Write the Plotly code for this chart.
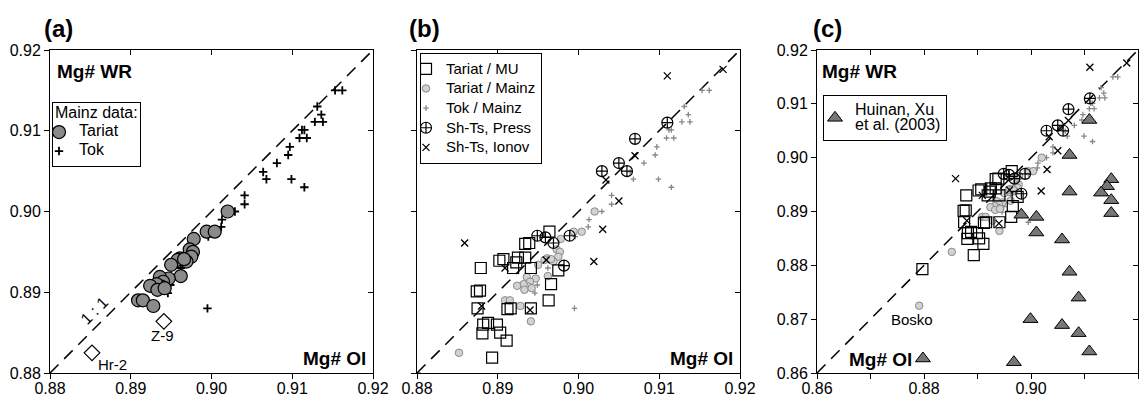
import plotly.graph_objects as go

# ---------------- data (Mg# olivine, Mg# whole rock) ----------------
tariat_x = [0.9020, 0.8994, 0.9004, 0.8978, 0.8973, 0.8977, 0.8975, 0.8961, 0.8958, 0.8969, 0.8966, 0.8950,
            0.8962, 0.8947, 0.8936, 0.8940, 0.8938, 0.8932, 0.8924, 0.8933, 0.8942, 0.8909, 0.8915, 0.8928]
tariat_y = [0.9000, 0.8975, 0.8975, 0.8966, 0.8953, 0.8950, 0.8944, 0.8942, 0.8940, 0.8938, 0.8941, 0.8934,
            0.8920, 0.8917, 0.8919, 0.8913, 0.8907, 0.8910, 0.8908, 0.8903, 0.8905, 0.8890, 0.8890, 0.8883]

special_names = ["Z-9", "Hr-2", "Bosko"]
special_x = [0.8941, 0.8852, 0.8791]
special_y = [0.8864, 0.8825, 0.8725]

tok_x = [0.9153, 0.9162, 0.9131, 0.9136, 0.9128, 0.9138, 0.9112, 0.9115, 0.9109, 0.9118, 0.9097, 0.9095,
         0.9081, 0.9064, 0.9068, 0.9099, 0.9115, 0.9041, 0.9041, 0.9029, 0.9013, 0.9012, 0.8996, 0.8962,
         0.8949, 0.8946, 0.8995]
tok_y = [0.9150, 0.9150, 0.9130, 0.9120, 0.9111, 0.9111, 0.9101, 0.9101, 0.9091, 0.9091, 0.9080, 0.9070,
         0.9060, 0.9049, 0.9040, 0.9040, 0.9030, 0.9020, 0.9009, 0.9000, 0.8990, 0.8981, 0.8969, 0.8930,
         0.8909, 0.8899, 0.8880]

mu_x = [0.8964, 0.8939, 0.8934, 0.8907, 0.8902, 0.8925, 0.8934, 0.8923, 0.8919, 0.8941, 0.8975, 0.8879,
        0.8966, 0.8874, 0.8878, 0.8963, 0.8875, 0.8912, 0.8916, 0.8941, 0.8882, 0.8888, 0.8899, 0.8881,
        0.8903, 0.8911, 0.8893, 0.8797]
mu_y = [0.8975, 0.8961, 0.8960, 0.8941, 0.8939, 0.8943, 0.8943, 0.8937, 0.8930, 0.8930, 0.8927, 0.8930,
        0.8910, 0.8901, 0.8902, 0.8890, 0.8880, 0.8879, 0.8880, 0.8880, 0.8860, 0.8862, 0.8860, 0.8849,
        0.8850, 0.8840, 0.8819, 0.8793]

press_x = [0.8949, 0.8959, 0.8969, 0.8989, 0.8982, 0.9029, 0.9050, 0.9060, 0.9070, 0.9110]
press_y = [0.8970, 0.8968, 0.8961, 0.8970, 0.8933, 0.9050, 0.9060, 0.9050, 0.9090, 0.9110]

ionov_x = [0.9110, 0.9179, 0.9070, 0.9050, 0.9034, 0.9030, 0.9019, 0.8960, 0.8909, 0.8880, 0.8940, 0.8859]
ionov_y = [0.9168, 0.9176, 0.9069, 0.9013, 0.9039, 0.8978, 0.8938, 0.8940, 0.8930, 0.8883, 0.8878, 0.8961]

huinan_x = [0.8798, 0.8968, 0.8999, 0.9058, 0.9089, 0.9109, 0.9089, 0.9072, 0.9058, 0.9010, 0.9010, 0.8982,
            0.9150, 0.9150, 0.9109, 0.9072, 0.9072, 0.9150, 0.9142, 0.9131]
huinan_y = [0.8627, 0.8620, 0.8700, 0.8689, 0.8674, 0.8640, 0.8740, 0.8788, 0.8848, 0.8890, 0.8861, 0.8894,
            0.8897, 0.8921, 0.9070, 0.9005, 0.8937, 0.8960, 0.8947, 0.8935]

one_to_one_ab = [0.88, 0.92]
one_to_one_c = [0.86, 0.92]

ticks_ab = [0.88, 0.89, 0.90, 0.91, 0.92]
ticklabels_ab = ["0.88", "0.89", "0.90", "0.91", "0.92"]
ticks_c = [0.86, 0.87, 0.88, 0.89, 0.90, 0.91, 0.92]
xticklabels_c = ["0.86", "", "0.88", "", "0.90", "", "0.92"]
yticklabels_c = ["0.86", "0.87", "0.88", "0.89", "0.90", "0.91", "0.92"]

# ---------------- styling ----------------
FONT = "Liberation Sans, Arial, Helvetica, sans-serif"
W, H = 1144, 396
def px(x):
    return x / W
def py(y):
    return 1 - y / H

def big(text, size):
    # legend text drawn at a larger size than the (row-spacing) legend font
    return "<span style='font-size:%dpx'>%s</span>" % (size, text)

dom_y = [py(373), py(50)]
dom_x = {1: [px(50), px(373)], 2: [px(417), px(740)], 3: [px(817), px(1138)]}

fig = go.Figure()

def line_trace(vals, ax):
    return go.Scatter(x=vals, y=vals, mode="lines", xaxis="x" + ax, yaxis="y" + ax,
                      line=dict(color="black", width=1.5, dash="12px,8px"),
                      showlegend=False, hoverinfo="skip")

# ---- panel (a)
fig.add_trace(line_trace(one_to_one_ab, ""))
fig.add_trace(go.Scatter(x=tok_x, y=tok_y, mode="markers", name=big("Tok", 16), legend="legend", legendrank=2,
                         marker=dict(symbol="cross-thin", size=6, line=dict(color="black", width=1.8))))
fig.add_trace(go.Scatter(x=tariat_x, y=tariat_y, mode="markers", name=big("Tariat", 16), legend="legend",
                         legendrank=1,
                         marker=dict(symbol="circle", size=13, color="#8a8a8a",
                                     line=dict(color="black", width=1.2))))
fig.add_trace(go.Scatter(x=special_x[:2], y=special_y[:2], mode="markers", showlegend=False,
                         marker=dict(symbol="diamond-open", size=12, color="black",
                                     line=dict(color="black", width=1.2))))

# ---- panels (b) and (c)
all_tariat_x = tariat_x + special_x
all_tariat_y = tariat_y + special_y

def add_common(ax, leg, show):
    fig.add_trace(go.Scatter(x=tok_x, y=tok_y, mode="markers", name=big("Tok / Mainz", 15),
                             xaxis="x" + ax, yaxis="y" + ax, legend=leg, legendrank=3, showlegend=show,
                             marker=dict(symbol="cross-thin", size=4, line=dict(color="#888888", width=1.3))))
    fig.add_trace(go.Scatter(x=all_tariat_x, y=all_tariat_y, mode="markers", name=big("Tariat / Mainz", 15),
                             xaxis="x" + ax, yaxis="y" + ax, legend=leg, legendrank=2, showlegend=show,
                             marker=dict(symbol="circle", size=7.5, color="#d2d2d2",
                                         line=dict(color="#8a8a8a", width=1))))
    fig.add_trace(go.Scatter(x=mu_x, y=mu_y, mode="markers", name=big("Tariat / MU", 15),
                             xaxis="x" + ax, yaxis="y" + ax, legend=leg, legendrank=1, showlegend=show,
                             marker=dict(symbol="square-open", size=11, color="black",
                                         line=dict(color="black", width=1.2))))
    fig.add_trace(go.Scatter(x=press_x, y=press_y, mode="markers", name=big("Sh-Ts, Press", 15),
                             xaxis="x" + ax, yaxis="y" + ax, legend=leg, legendrank=4, showlegend=show,
                             marker=dict(symbol="circle-cross-open", size=11, color="black",
                                         line=dict(color="black", width=1.2))))
    fig.add_trace(go.Scatter(x=ionov_x, y=ionov_y, mode="markers", name=big("Sh-Ts, Ionov", 15),
                             xaxis="x" + ax, yaxis="y" + ax, legend=leg, legendrank=5, showlegend=show,
                             marker=dict(symbol="x-thin", size=7, color="black",
                                         line=dict(color="black", width=1.3))))

fig.add_trace(line_trace(one_to_one_ab, "2"))
add_common("2", "legend2", True)

fig.add_trace(line_trace(one_to_one_c, "3"))
add_common("3", "legend3", False)
fig.add_trace(go.Scatter(x=huinan_x, y=huinan_y, mode="markers",
                         name=big("Huinan, Xu", 16) + "<br>" + big("et al. (2003)", 16),
                         xaxis="x3", yaxis="y3", legend="legend3",
                         marker=dict(symbol="triangle-up", size=13, color="#777777",
                                     line=dict(color="black", width=1))))

# dummy traces for the overlay (top / right) axes
for ax in ["4", "5", "6"]:
    fig.add_trace(go.Scatter(x=[None], y=[None], xaxis="x" + ax, yaxis="y" + ax,
                             showlegend=False, hoverinfo="skip"))

# ---------------- axes ----------------
base = dict(showgrid=False, zeroline=False, showline=True, linecolor="black", linewidth=1,
            ticklen=5, tickwidth=1, tickcolor="black", automargin=False,
            tickfont=dict(family=FONT, size=16, color="black"))

panels = {
    1: dict(xr=[0.88, 0.92], yr=[0.88, 0.92], xt=ticks_ab, xl=ticklabels_ab, yt=ticks_ab, yl=ticklabels_ab, ylab=True),
    2: dict(xr=[0.88, 0.92], yr=[0.88, 0.92], xt=ticks_ab, xl=ticklabels_ab, yt=ticks_ab, yl=ticklabels_ab, ylab=False),
    3: dict(xr=[0.86, 0.92], yr=[0.86, 0.92], xt=ticks_c, xl=xticklabels_c, yt=ticks_c, yl=yticklabels_c, ylab=True),
}

layout_axes = {}
for i, p in panels.items():
    sx = "" if i == 1 else str(i)
    o = str(i + 3)
    layout_axes["xaxis" + sx] = dict(base, domain=dom_x[i], anchor="y" + sx, range=p["xr"],
                                      tickvals=p["xt"], ticktext=p["xl"], ticks="outside",
                                      ticklabelstandoff=-4)
    layout_axes["yaxis" + sx] = dict(base, domain=dom_y, anchor="x" + sx, range=p["yr"],
                                      tickvals=p["yt"], ticktext=p["yl"], ticks="outside",
                                      showticklabels=p["ylab"])
    layout_axes["xaxis" + o] = dict(base, overlaying="x" + sx, side="top", anchor="y" + sx, range=p["xr"],
                                     tickvals=p["xt"], ticks="inside", showticklabels=False)
    layout_axes["yaxis" + o] = dict(base, overlaying="y" + sx, side="right", anchor="x" + sx, range=p["yr"],
                                     tickvals=p["yt"], ticks="inside", showticklabels=False)

fig.update_layout(**layout_axes)

# ---------------- legends ----------------
legbase = dict(bordercolor="black", borderwidth=1, bgcolor="white", xanchor="left", yanchor="top",
               tracegroupgap=0)
fig.update_layout(
    legend=dict(legbase, x=px(52), y=py(102), font=dict(family=FONT, size=11.2, color="black"),
                title=dict(text=big("Mainz data:", 16), font=dict(family=FONT, size=11.2, color="black")),
                indentation=-14),
    legend2=dict(legbase, x=px(420), y=py(53), font=dict(family=FONT, size=12.8, color="black"),
                 indentation=-15),
    legend3=dict(legbase, x=px(823), y=py(95), font=dict(family=FONT, size=11.8, color="black"),
                 indentation=-9),
)

# ---------------- annotations ----------------
ann = []
def label(text, x, y, size, bold=False, xanchor="left", xref="paper", yref="paper", angle=0):
    ann.append(dict(text=("<b>%s</b>" % text) if bold else text, x=x, y=y, xref=xref, yref=yref,
                    xanchor=xanchor, yanchor="middle", showarrow=False, textangle=angle,
                    font=dict(family=FONT, size=size, color="black")))

label("(a)", px(42), py(29), 24, bold=True)
label("(b)", px(407), py(29), 24, bold=True)
label("(c)", px(811), py(29), 24, bold=True)
label("Mg# WR", px(55), py(71), 19, bold=True)
label("Mg# Ol", px(368), py(358), 19, bold=True, xanchor="right")
label("Mg# Ol", px(735), py(358), 19, bold=True, xanchor="right")
label("Mg# WR", px(820), py(71), 19, bold=True)
label("Mg# Ol", px(847), py(359), 19, bold=True)

# sample labels in data coordinates
label(special_names[0], 0.8939, 0.8847, 15, xanchor="center", xref="x", yref="y")
label(special_names[1], 0.8878, 0.8810, 15, xanchor="center", xref="x", yref="y")
label(special_names[2], 0.8777, 0.8700, 15, xanchor="center", xref="x3", yref="y3")
label("1 : 1", 0.8855, 0.8877, 16, xanchor="center", xref="x", yref="y", angle=-45)

fig.update_layout(annotations=ann, width=W, height=H, margin=dict(l=0, r=0, t=0, b=0),
                  paper_bgcolor="white", plot_bgcolor="rgba(0,0,0,0)",
                  font=dict(family=FONT, color="black"))

fig.write_html("out.html")
